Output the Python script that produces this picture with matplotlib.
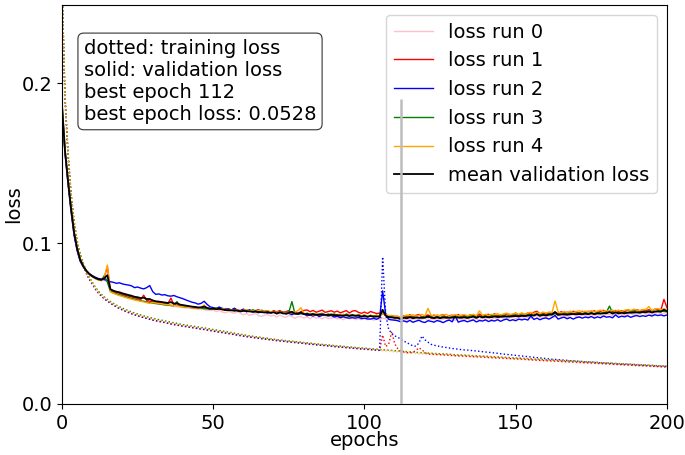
import numpy as np
import matplotlib
matplotlib.use("Agg")
import matplotlib.pyplot as plt

# Loss values per epoch, stored in units of 1e-4
SCALE = 1e-4

run_names = ["loss run 0", "loss run 1", "loss run 2", "loss run 3", "loss run 4"]
run_colors = ["pink", "red", "blue", "green", "orange"]

train_run0 = [
    2620, 1880, 1530, 1290, 1120, 1000, 922, 862, 815, 775,
    745, 715, 690, 670, 653, 639, 626, 614, 603, 593,
    584, 576, 568, 561, 554, 548, 542, 537, 531, 526,
    521, 517, 513, 509, 505, 501, 497, 493, 490, 486,
    483, 480, 477, 474, 471, 468, 465, 462, 459, 456,
    452, 449, 446, 443, 440, 437, 434, 430, 427, 424,
    421, 418, 415, 413, 410, 408, 405, 403, 400, 398,
    396, 393, 391, 389, 387, 385, 383, 381, 379, 377,
    375, 373, 371, 369, 367, 365, 363, 362, 360, 358,
    356, 354, 353, 351, 349, 348, 346, 344, 343, 341,
    340, 338, 337, 335, 334, 332, 331, 329, 327, 326,
    324, 323, 321, 320, 318, 317, 315, 314, 312, 311,
    310, 309, 308, 307, 306, 305, 304, 303, 302, 300,
    299, 298, 297, 296, 295, 294, 293, 292, 291, 290,
    289, 288, 287, 286, 285, 284, 283, 282, 281, 280,
    279, 278, 277, 276, 275, 273, 272, 271, 270, 269,
    268, 267, 266, 265, 264, 263, 262, 261, 260, 259,
    258, 257, 256, 255, 254, 253, 252, 251, 250, 249,
    248, 247, 246, 245, 244, 243, 242, 241, 240, 239,
    238, 237, 236, 235, 234, 233, 232, 231, 230, 229,
    228,
]

train_run1 = [
    2590, 1890, 1545, 1295, 1125, 1005, 926, 866, 817, 777,
    747, 717, 692, 672, 656, 641, 628, 616, 605, 595,
    586, 578, 570, 563, 556, 550, 544, 538, 533, 528,
    523, 519, 515, 511, 507, 503, 499, 495, 492, 488,
    485, 482, 479, 476, 473, 470, 467, 464, 461, 458,
    454, 451, 448, 445, 442, 439, 436, 432, 429, 426,
    423, 420, 417, 415, 412, 410, 407, 405, 402, 400,
    398, 395, 393, 391, 389, 387, 385, 383, 381, 379,
    377, 375, 373, 371, 369, 367, 365, 364, 362, 360,
    358, 356, 355, 353, 351, 350, 348, 346, 345, 343,
    342, 340, 339, 337, 336, 334, 430, 358, 372, 450,
    375, 345, 330, 324, 320, 319, 322, 334, 350, 338,
    320, 311, 310, 309, 308, 307, 306, 305, 304, 302,
    301, 300, 299, 298, 297, 296, 295, 294, 293, 292,
    291, 290, 289, 288, 287, 286, 285, 284, 283, 282,
    281, 280, 279, 278, 277, 275, 274, 273, 272, 271,
    270, 269, 268, 267, 266, 265, 264, 263, 262, 261,
    260, 259, 258, 257, 256, 255, 254, 253, 252, 251,
    250, 249, 248, 247, 246, 245, 244, 243, 242, 241,
    240, 239, 238, 237, 236, 235, 234, 233, 232, 231,
    230,
]

train_run2 = [
    2610, 1910, 1555, 1302, 1128, 1008, 928, 868, 819, 779,
    749, 719, 694, 674, 657, 642, 629, 617, 606, 596,
    587, 579, 571, 564, 557, 551, 545, 539, 534, 529,
    524, 520, 516, 512, 508, 504, 500, 496, 493, 489,
    486, 483, 480, 477, 474, 471, 468, 465, 462, 459,
    455, 452, 449, 446, 443, 440, 437, 433, 430, 427,
    424, 421, 418, 416, 413, 411, 408, 406, 403, 401,
    399, 396, 394, 392, 390, 388, 386, 384, 382, 380,
    378, 376, 374, 372, 370, 368, 366, 365, 363, 361,
    359, 357, 356, 354, 352, 351, 349, 347, 346, 344,
    343, 341, 340, 338, 337, 335, 917, 560, 465, 440,
    425, 415, 405, 392, 382, 372, 362, 360, 380, 424,
    400, 385, 372, 366, 362, 358, 355, 352, 349, 346,
    344, 341, 339, 337, 336, 334, 332, 330, 328, 326,
    324, 322, 320, 318, 316, 313, 311, 309, 307, 305,
    303, 301, 299, 297, 295, 293, 291, 289, 287, 285,
    283, 281, 279, 278, 276, 275, 273, 272, 270, 269,
    267, 266, 265, 263, 262, 261, 260, 258, 257, 256,
    255, 254, 252, 251, 250, 249, 248, 247, 246, 245,
    244, 243, 242, 241, 240, 239, 238, 237, 236, 235,
    234,
]

train_run3 = [
    2630, 1930, 1575, 1318, 1145, 1022, 940, 880, 830, 790,
    760, 729, 704, 684, 667, 652, 639, 627, 616, 606,
    597, 589, 581, 574, 567, 561, 555, 549, 544, 539,
    534, 530, 526, 522, 518, 514, 510, 506, 502, 498,
    495, 492, 489, 486, 483, 480, 477, 474, 471, 468,
    464, 461, 458, 455, 452, 448, 445, 441, 438, 435,
    431, 428, 425, 422, 419, 417, 414, 411, 409, 406,
    404, 401, 399, 397, 395, 393, 391, 389, 387, 385,
    383, 381, 379, 377, 375, 373, 371, 370, 368, 366,
    364, 362, 361, 359, 357, 356, 354, 352, 351, 349,
    348, 346, 345, 343, 342, 340, 338, 337, 335, 334,
    332, 331, 329, 328, 326, 325, 323, 322, 320, 319,
    318, 317, 316, 315, 314, 313, 312, 311, 310, 308,
    307, 306, 305, 304, 303, 302, 301, 300, 299, 298,
    297, 296, 295, 294, 293, 292, 291, 290, 289, 288,
    287, 286, 285, 284, 283, 281, 280, 279, 278, 277,
    276, 275, 274, 273, 272, 271, 270, 269, 268, 267,
    266, 265, 264, 263, 262, 261, 260, 259, 258, 257,
    256, 255, 254, 253, 252, 251, 250, 249, 248, 247,
    246, 245, 244, 243, 242, 241, 240, 239, 238, 237,
    236,
]

train_run4 = [
    2615, 1915, 1560, 1308, 1136, 1015, 934, 874, 824, 784,
    754, 724, 699, 679, 662, 647, 634, 622, 611, 601,
    592, 584, 576, 569, 562, 556, 550, 544, 539, 534,
    529, 525, 521, 517, 513, 509, 505, 501, 498, 494,
    491, 488, 485, 482, 479, 476, 473, 470, 467, 464,
    460, 457, 454, 451, 448, 445, 442, 438, 435, 432,
    429, 426, 423, 421, 418, 416, 413, 411, 408, 406,
    403, 400, 398, 396, 394, 392, 390, 388, 386, 384,
    382, 380, 378, 376, 374, 372, 370, 369, 367, 365,
    363, 361, 360, 358, 356, 355, 353, 351, 350, 348,
    347, 345, 344, 342, 341, 339, 337, 336, 334, 333,
    331, 330, 328, 327, 325, 324, 322, 321, 319, 318,
    317, 316, 315, 314, 313, 312, 311, 310, 309, 307,
    306, 305, 304, 303, 302, 301, 300, 299, 298, 297,
    296, 295, 294, 293, 292, 291, 290, 289, 288, 287,
    286, 285, 284, 283, 282, 280, 279, 278, 277, 276,
    275, 274, 273, 272, 271, 270, 269, 268, 267, 266,
    265, 264, 263, 262, 261, 260, 259, 258, 257, 256,
    255, 254, 253, 252, 251, 250, 249, 248, 247, 246,
    245, 244, 243, 242, 241, 240, 239, 238, 237, 236,
    235,
]

val_run0 = [
    1880, 1590, 1400, 1225, 1075, 975, 905, 862, 835, 812,
    798, 788, 780, 775, 770, 760, 702, 690, 684, 680,
    672, 668, 661, 658, 651, 648, 644, 640, 634, 632,
    627, 626, 621, 620, 615, 614, 612, 607, 607, 602,
    601, 598, 598, 594, 593, 590, 589, 588, 584, 584,
    585, 576, 584, 573, 568, 577, 571, 565, 575, 565,
    556, 564, 552, 558, 564, 550, 546, 555, 556, 548,
    553, 542, 555, 545, 540, 551, 545, 534, 544, 546,
    535, 543, 531, 546, 535, 539, 530, 543, 532, 535,
    540, 530, 535, 525, 537, 530, 539, 525, 532, 526,
    532, 525, 533, 522, 529, 524, 536, 530, 527, 531,
    524, 528, 520, 529, 522, 532, 525, 531, 520, 528,
    534, 523, 530, 524, 533, 521, 529, 535, 522, 527,
    520, 532, 529, 524, 534, 521, 532, 530, 524, 538,
    528, 534, 525, 537, 528, 542, 533, 528, 538, 543,
    531, 539, 535, 544, 537, 533, 545, 550, 540, 544,
    538, 549, 547, 541, 553, 545, 550, 539, 553, 557,
    547, 544, 554, 552, 545, 559, 549, 557, 552, 546,
    560, 557, 551, 562, 554, 560, 549, 558, 564, 553,
    562, 559, 569, 558, 567, 556, 565, 571, 560, 566,
    568,
]

val_run1 = [
    1850, 1570, 1385, 1215, 1065, 965, 895, 858, 828, 808,
    795, 785, 778, 775, 790, 855, 712, 700, 694, 690,
    682, 676, 672, 667, 662, 657, 650, 678, 645, 641,
    638, 636, 632, 630, 626, 624, 660, 618, 616, 614,
    611, 609, 607, 605, 603, 601, 600, 598, 596, 594,
    599, 589, 600, 588, 595, 583, 586, 593, 579, 583,
    591, 580, 586, 575, 582, 588, 573, 578, 582, 571,
    582, 574, 583, 570, 576, 582, 565, 572, 566, 575,
    583, 586, 575, 583, 572, 578, 585, 571, 576, 581,
    572, 579, 568, 575, 582, 567, 579, 582, 571, 565,
    573, 564, 576, 570, 564, 566, 566, 554, 549, 551,
    545, 546, 538, 550, 545, 556, 543, 552, 558, 542,
    549, 555, 546, 554, 544, 551, 557, 541, 550, 553,
    547, 557, 546, 553, 544, 557, 551, 548, 560, 547,
    555, 559, 551, 562, 550, 557, 549, 561, 558, 555,
    567, 554, 564, 558, 567, 558, 572, 578, 562, 567,
    560, 571, 566, 571, 563, 575, 567, 572, 564, 578,
    572, 567, 578, 569, 578, 572, 581, 568, 577, 584,
    572, 579, 575, 583, 575, 582, 574, 587, 581, 576,
    588, 580, 587, 581, 588, 579, 591, 589, 587, 652,
    600,
]

val_run2 = [
    1840, 1560, 1370, 1200, 1050, 955, 890, 855, 830, 812,
    800, 790, 782, 778, 775, 770, 762, 758, 752, 755,
    748, 744, 741, 736, 725, 729, 722, 717, 725, 738,
    700, 683, 686, 679, 681, 674, 672, 676, 668, 662,
    656, 648, 641, 634, 630, 622, 627, 640, 620, 605,
    600, 596, 604, 594, 590, 593, 586, 597, 585, 581,
    590, 574, 587, 573, 577, 568, 578, 573, 566, 574,
    572, 563, 569, 572, 561, 565, 556, 567, 559, 563,
    560, 550, 555, 548, 557, 545, 552, 554, 548, 552,
    542, 546, 538, 543, 538, 535, 538, 535, 540, 532,
    535, 530, 529, 534, 528, 538, 705, 560, 527, 524,
    522, 519, 512, 518, 511, 521, 509, 516, 522, 512,
    508, 519, 515, 510, 520, 515, 507, 517, 523, 512,
    548, 510, 517, 520, 512, 518, 524, 511, 520, 517,
    524, 514, 521, 517, 525, 515, 524, 529, 519, 525,
    519, 529, 524, 529, 523, 548, 527, 535, 525, 533,
    536, 529, 539, 552, 529, 536, 541, 531, 539, 529,
    538, 542, 535, 542, 537, 545, 535, 543, 537, 548,
    541, 544, 537, 555, 540, 547, 543, 550, 540, 547,
    551, 545, 550, 546, 554, 548, 556, 551, 555, 549,
    555,
]

val_run3 = [
    1870, 1585, 1395, 1225, 1075, 975, 905, 865, 832, 812,
    796, 784, 775, 770, 800, 760, 702, 692, 686, 680,
    674, 668, 663, 658, 653, 648, 643, 640, 636, 632,
    630, 626, 624, 621, 618, 616, 614, 612, 638, 609,
    606, 604, 603, 600, 598, 596, 597, 594, 593, 591,
    592, 599, 590, 597, 583, 590, 586, 579, 586, 578,
    582, 587, 577, 587, 581, 576, 585, 573, 578, 569,
    577, 569, 578, 569, 571, 572, 638, 564, 561, 567,
    559, 566, 560, 564, 554, 561, 565, 554, 561, 555,
    561, 553, 558, 550, 561, 553, 557, 549, 557, 549,
    554, 546, 552, 548, 553, 546, 565, 552, 545, 546,
    541, 543, 533, 544, 537, 547, 539, 546, 536, 542,
    548, 538, 543, 540, 546, 537, 549, 538, 543, 547,
    536, 545, 540, 546, 540, 550, 556, 542, 547, 540,
    551, 545, 550, 556, 543, 550, 554, 543, 553, 549,
    557, 548, 554, 550, 558, 556, 551, 563, 556, 561,
    553, 564, 559, 562, 556, 567, 559, 566, 562, 570,
    560, 567, 559, 570, 564, 569, 561, 575, 564, 569,
    573, 610, 567, 574, 568, 577, 571, 567, 576, 580,
    570, 577, 573, 579, 573, 582, 576, 580, 583, 577,
    575,
]

val_run4 = [
    1860, 1575, 1390, 1220, 1070, 970, 900, 860, 828, 808,
    792, 780, 772, 768, 790, 866, 698, 690, 682, 675,
    670, 663, 658, 653, 648, 644, 640, 636, 631, 627,
    633, 629, 627, 624, 621, 619, 616, 614, 611, 609,
    606, 604, 602, 600, 598, 596, 600, 617, 598, 596,
    593, 596, 588, 595, 590, 582, 588, 582, 588, 577,
    583, 588, 579, 583, 574, 583, 579, 573, 582, 573,
    576, 570, 577, 567, 571, 567, 571, 573, 582, 600,
    565, 557, 562, 554, 562, 557, 564, 555, 553, 561,
    553, 559, 553, 560, 549, 554, 549, 555, 553, 549,
    553, 547, 554, 544, 550, 551, 562, 555, 552, 550,
    548, 547, 537, 548, 555, 550, 557, 546, 553, 558,
    549, 596, 554, 547, 556, 549, 554, 559, 546, 552,
    557, 549, 554, 557, 550, 555, 559, 550, 580, 553,
    559, 551, 559, 555, 563, 554, 562, 566, 555, 562,
    565, 559, 568, 559, 566, 571, 563, 571, 562, 573,
    567, 572, 571, 642, 574, 566, 576, 570, 579, 569,
    576, 581, 572, 579, 573, 582, 572, 579, 585, 577,
    582, 575, 585, 578, 585, 576, 585, 588, 582, 591,
    586, 582, 589, 589, 607, 583, 590, 594, 587, 593,
    589,
]

train_runs = [train_run0, train_run1, train_run2, train_run3, train_run4]
val_runs = [val_run0, val_run1, val_run2, val_run3, val_run4]

train = [np.asarray(r, dtype=float) * SCALE for r in train_runs]
val = [np.asarray(r, dtype=float) * SCALE for r in val_runs]
epochs = np.arange(len(val[0]))

mean_val = np.mean(np.vstack(val), axis=0)
best_epoch = int(np.argmin(mean_val))
best_loss = float(mean_val[best_epoch])

plt.rcParams["font.family"] = ["DejaVu Sans"]
FS = 14

fig = plt.figure(figsize=(6.85, 4.55), dpi=100)
ax = fig.add_axes([0.0905, 0.1121, 0.8832, 0.8769])

for tr, va, name, col in zip(train, val, run_names, run_colors):
    ax.plot(epochs, tr, linestyle=":", color=col, linewidth=1)
    ax.plot(epochs, va, linestyle="-", color=col, linewidth=1, label=name)

ax.plot(epochs, mean_val, color="black", linewidth=1.3, label="mean validation loss")

ax.vlines(best_epoch, 0, 0.19, colors="#bdbdbd", linewidth=1.8, zorder=6)

ax.set_xlim(0, 200)
ax.set_ylim(0, 0.2486)
ax.set_xticks([0, 50, 100, 150, 200])
ax.set_yticks([0.0, 0.1, 0.2])
ax.tick_params(labelsize=FS)
ax.set_xlabel("epochs", fontsize=FS, labelpad=-1)
ax.set_ylabel("loss", fontsize=FS, labelpad=-1)

info = (
    "dotted: training loss\n"
    "solid: validation loss\n"
    f"best epoch {best_epoch}\n"
    f"best epoch loss: {best_loss:.4f}"
)
ax.text(0.036, 0.915, info, transform=ax.transAxes, fontsize=FS, va="top", ha="left",
        bbox=dict(boxstyle="round,pad=0.3", facecolor="white", edgecolor="black",
                  alpha=0.8, linewidth=0.8))

ax.legend(loc="upper right", fontsize=FS)

fig.savefig("out.png", dpi=100)
